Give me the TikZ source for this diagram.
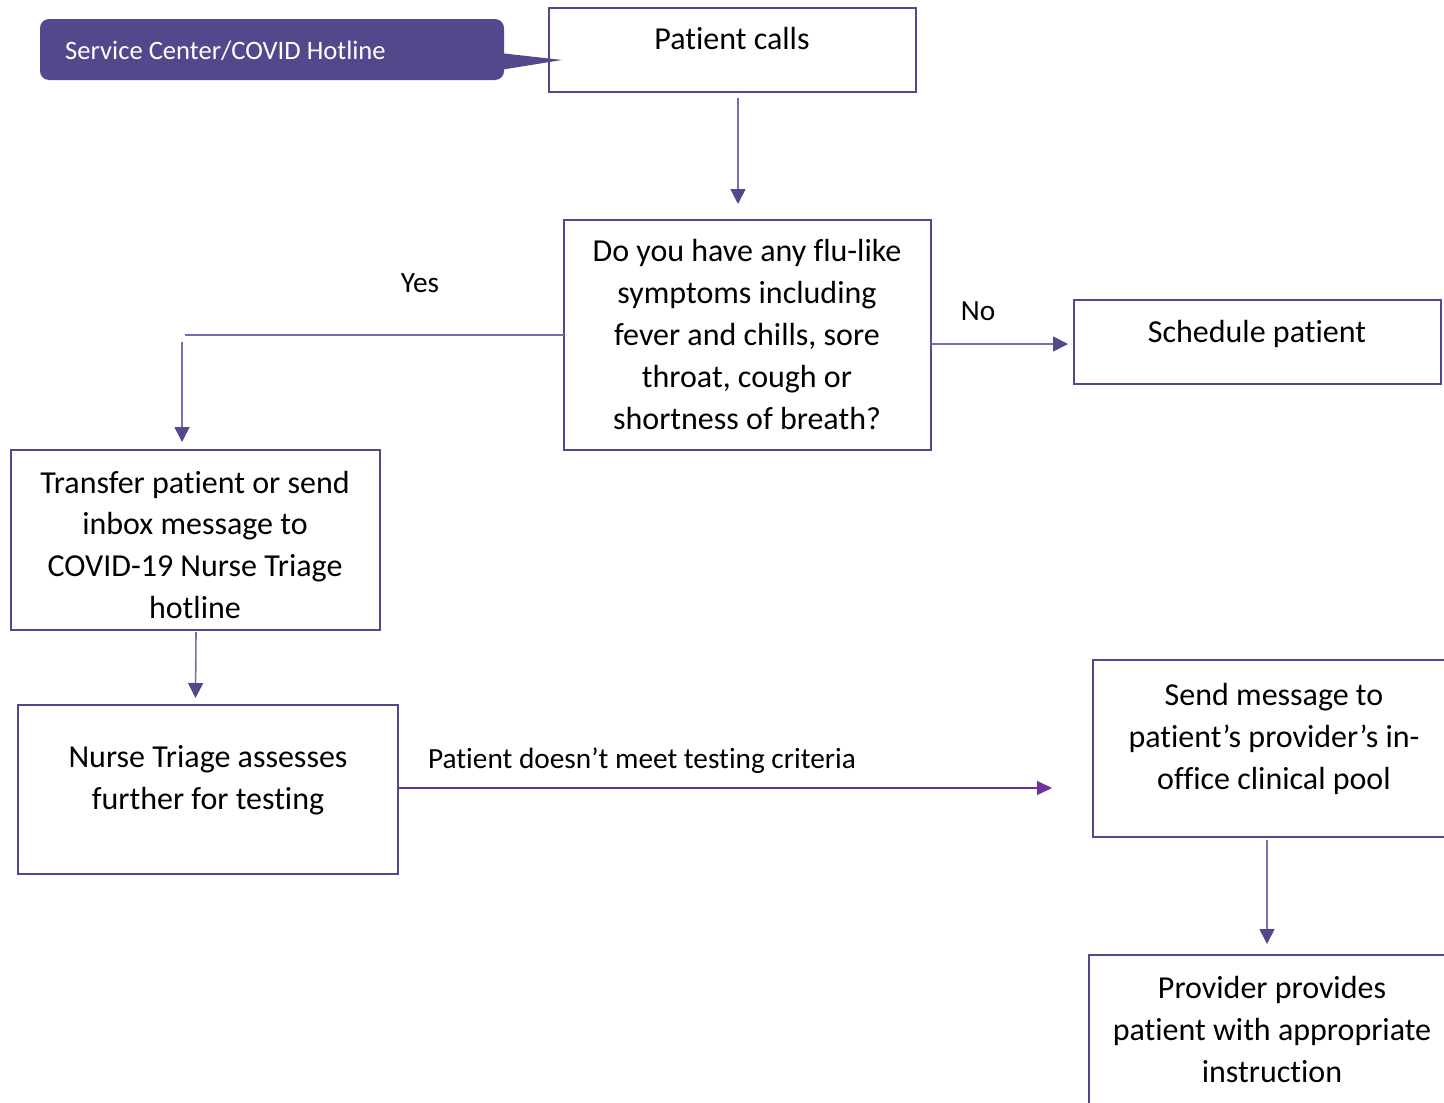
\documentclass[tikz,border=0pt]{standalone}
\usepackage{fontspec}
\setmainfont{Carlito}[Ligatures={NoCommon,NoRare}]
\usetikzlibrary{arrows.meta,calc}
\definecolor{boxc}{RGB}{84,72,140}
\definecolor{linec}{RGB}{120,110,172}
\definecolor{purp}{RGB}{112,48,160}
\begin{document}
\begin{tikzpicture}[x=1pt,y=-1pt,
  box/.style={draw=boxc,line width=2.6pt,inner sep=0pt,outer sep=0pt},
  txt/.style={align=center,inner sep=0pt,font=\fontsize{32}{42}\selectfont},
  lbl/.style={inner sep=0pt,font=\fontsize{29.3}{36}\selectfont},
  conn/.style={draw=linec,line width=1.6pt,-{Triangle[length=15pt,width=15pt,fill=boxc,color=boxc]}},
  plainline/.style={draw=linec,line width=1.6pt},
  pconn/.style={draw=purp,line width=1.3pt,-{Triangle[length=15pt,width=14pt]}}]
\clip (0,0) rectangle (1444,1103);
\fill[white] (0,0) rectangle (1444,1103);

% callout
\node[fill=boxc,rounded corners=9pt,minimum width=464pt,minimum height=61pt,inner sep=0pt] (sc) at (272,49.5) {};
\fill[boxc] (500,53) -- (562,60) -- (500,70) -- cycle;
\node[anchor=west,text=white,inner sep=0pt,font=\fontsize{26.6}{30}\selectfont] (sct) at (65,51) {Service Center/COVID Hotline};

% boxes
\node[box,minimum width=367pt,minimum height=84pt] (pc) at (732.5,50) {};
\node[txt] (pct) at (732,39) {Patient calls};

\node[box,minimum width=367pt,minimum height=230pt] (q) at (747.5,335) {};
\node[txt] (qt) at (747,335) {Do you have any flu-like\\symptoms including\\fever and chills, sore\\throat, cough or\\shortness of breath?};

\node[box,minimum width=367pt,minimum height=84pt] (sp) at (1257.5,342) {};
\node[txt] (spt) at (1257,334) {Schedule patient};

\node[box,minimum width=369pt,minimum height=180pt] (tr) at (195.5,540) {};
\node[txt] (trt) at (195,545) {Transfer patient or send\\inbox message to\\COVID-19 Nurse Triage\\hotline};

\node[box,minimum width=380pt,minimum height=169pt] (nt) at (208,789.5) {};
\node[txt] (ntt) at (208,780) {Nurse Triage assesses\\further for testing};

\node[box,minimum width=363pt,minimum height=177pt] (sm) at (1274.5,748.5) {};
\node[txt] (smt) at (1274,739) {Send message to\\patient’s provider’s in-\\office clinical pool};

\node[box,minimum width=366pt,minimum height=180pt] (pp) at (1272,1045) {};
\node[txt] (ppt) at (1272,1029) {Provider provides\\patient with appropriate\\instruction};

% labels
\node[lbl] (yes) at (420,283) {Yes};
\node[lbl] (no) at (978,311) {No};
\node[lbl] (crit) at (642,761) {Patient doesn’t meet testing criteria};

% connectors
\draw[conn] ($(pc.south)+(5.5,6)$) -- ($(q.north)+(-9.5,-16)$);
\coordinate (yesend) at (185,335);
\draw[plainline] (q.west) -- (q.west -| yesend);
\coordinate (yesdrop) at (182,342);
\draw[conn] (yesdrop) -- ($(tr.north -| yesdrop)+(0,-8)$);
\draw[conn] ($(q.east)+(0,9)$) -- ($(q.east -| sp.west)+(-6,9)$);
\draw[conn] ($(tr.south)+(0.5,2)$) -- ($(tr.south |- nt.north)+(0,-7)$);
\draw[pconn] ($(nt.east)+(0,-1.5)$) -- ($(nt.east -| sm.west)+(-41,-1.5)$);
\draw[conn] ($(sm.south)+(-7.5,3)$) -- ($(sm.south |- pp.north)+(-7.5,-11)$);
\end{tikzpicture}
\end{document}
